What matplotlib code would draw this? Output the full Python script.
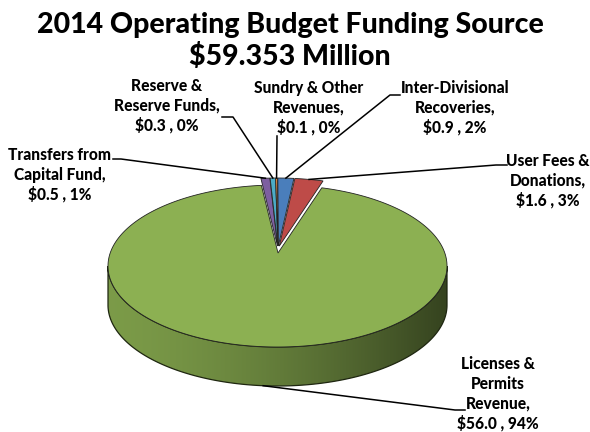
import numpy as np
import matplotlib
matplotlib.use("Agg")
import matplotlib.pyplot as plt
from matplotlib.colors import to_rgb
from matplotlib.patches import Polygon

# Funding sources, in the order they run clockwise from 12 o'clock
sources = [
    "Inter-Divisional\nRecoveries,",
    "User Fees &\nDonations,",
    "Licenses &\nPermits\nRevenue,",
    "Transfers from\nCapital Fund,",
    "Reserve &\nReserve Funds,",
    "Sundry & Other\nRevenues,",
]
amounts = [0.9, 1.6, 56.0, 0.5, 0.3, 0.1]  # $ millions
pct_labels = [2, 3, 94, 1, 0, 0]
colors = ["#4a7ebb", "#be4b48", "#8cb052", "#7d5fa0", "#4bacc6", "#f79646"]

title = "2014 Operating Budget Funding Source\n$59.353 Million"

# label text centres and the elbow of each leader line (pixels)
label_pos = [(455, 108), (548, 181), (498, 394), (60, 175), (167, 106), (309, 108)]
elbows = [
    [(400, 95), (390, 95)],
    [(507, 165), (496, 165)],
    [(465, 410), (455, 410)],
    [(113, 159), (121, 159)],
    [(222, 117), (233, 117)],
    [(277, 136)],
]

W, H = 590, 432
cx, cy = 277.5, 266.0     # centre of top ellipse
a, b = 169.5, 81.0        # semi axes
apex = (278.0, 253.0)     # where the slices meet on the top face
depth = 39.0
explode = 7.0
FONT = "Lato"


def rim(theta_deg, dy=0.0):
    t = np.radians(theta_deg)
    return cx + a * np.cos(t), cy - b * np.sin(t) + dy


def shade(x):
    t = np.clip((x - (cx - a)) / (2 * a), 0, 1)
    return 0.88 - 0.5 * t ** 1.5


fig = plt.figure(figsize=(W / 100, H / 100), dpi=100)
ax = fig.add_axes([0, 0, 1, 1])
ax.set_xlim(0, W)
ax.set_ylim(H, 0)
ax.axis("off")

total = sum(amounts)
spans = [v / total * 360.0 for v in amounts]
starts = 90.0 - np.concatenate([[0], np.cumsum(spans)[:-1]])
ends = starts - np.array(spans)
mids = (starts + ends) / 2

# side wall: only the front half (180..360 deg) is visible, shaded left to right
gx = np.linspace(cx - a, cx + a, 400)
for i in range(len(amounts)):
    lo, hi = ends[i] % 360, starts[i] % 360
    if hi <= lo:
        hi += 360
    base = np.array(to_rgb(colors[i]))
    grad = np.clip(base[None, None, :] * shade(gx)[None, :, None], 0, 1)
    for k in (0, 360):
        s0, s1 = max(lo, 180 + k), min(hi, 360 + k)
        if s1 <= s0:
            continue
        th = np.linspace(s0, s1, 200)
        x, y = rim(th)
        poly = np.column_stack([np.concatenate([x, x[::-1]]),
                                np.concatenate([y, y[::-1] + depth])])
        patch = Polygon(poly, closed=True, fc="none", ec="#1e2610", lw=0.9, zorder=2)
        ax.add_patch(patch)
        im = ax.imshow(grad, extent=[cx - a, cx + a, cy + b + depth, cy],
                       aspect="auto", zorder=1, interpolation="bilinear")
        im.set_clip_path(patch)

# top face slices
for i in range(len(amounts)):
    off = 0.0 if amounts[i] == max(amounts) else explode
    dx = off * np.cos(np.radians(mids[i]))
    dy = -off * np.sin(np.radians(mids[i]))
    th = np.linspace(starts[i], ends[i], max(3, int(spans[i] * 2)))
    rx, ry = rim(th)
    px = np.concatenate([[apex[0]], rx, [apex[0]]]) + dx
    py = np.concatenate([[apex[1]], ry, [apex[1]]]) + dy
    ax.fill(px, py, color=colors[i], ec="#222222", lw=0.6, zorder=3 + (off > 0))

# labels and leader lines
for i in range(len(amounts)):
    txt = f"{sources[i]}\n${amounts[i]:.1f} , {pct_labels[i]}%"
    ax.text(label_pos[i][0], label_pos[i][1], txt, ha="center", va="center",
            fontsize=11.2, fontweight=900, family=FONT, linespacing=1.28,
            zorder=6)
    m = mids[i] % 360
    if 180 < m < 360:
        end = rim(m, depth)
    else:
        x, y = rim(m)
        end = (x + explode * np.cos(np.radians(m)), y - explode * np.sin(np.radians(m)))
    pts = elbows[i] + [end]
    ax.plot([p[0] for p in pts], [p[1] for p in pts], color="black", lw=1.1, zorder=5)

ax.text(290, 41, title, ha="center", va="center", fontsize=20.5, fontweight=900,
        family=FONT, linespacing=1.22)

fig.savefig("out.png", dpi=100)
